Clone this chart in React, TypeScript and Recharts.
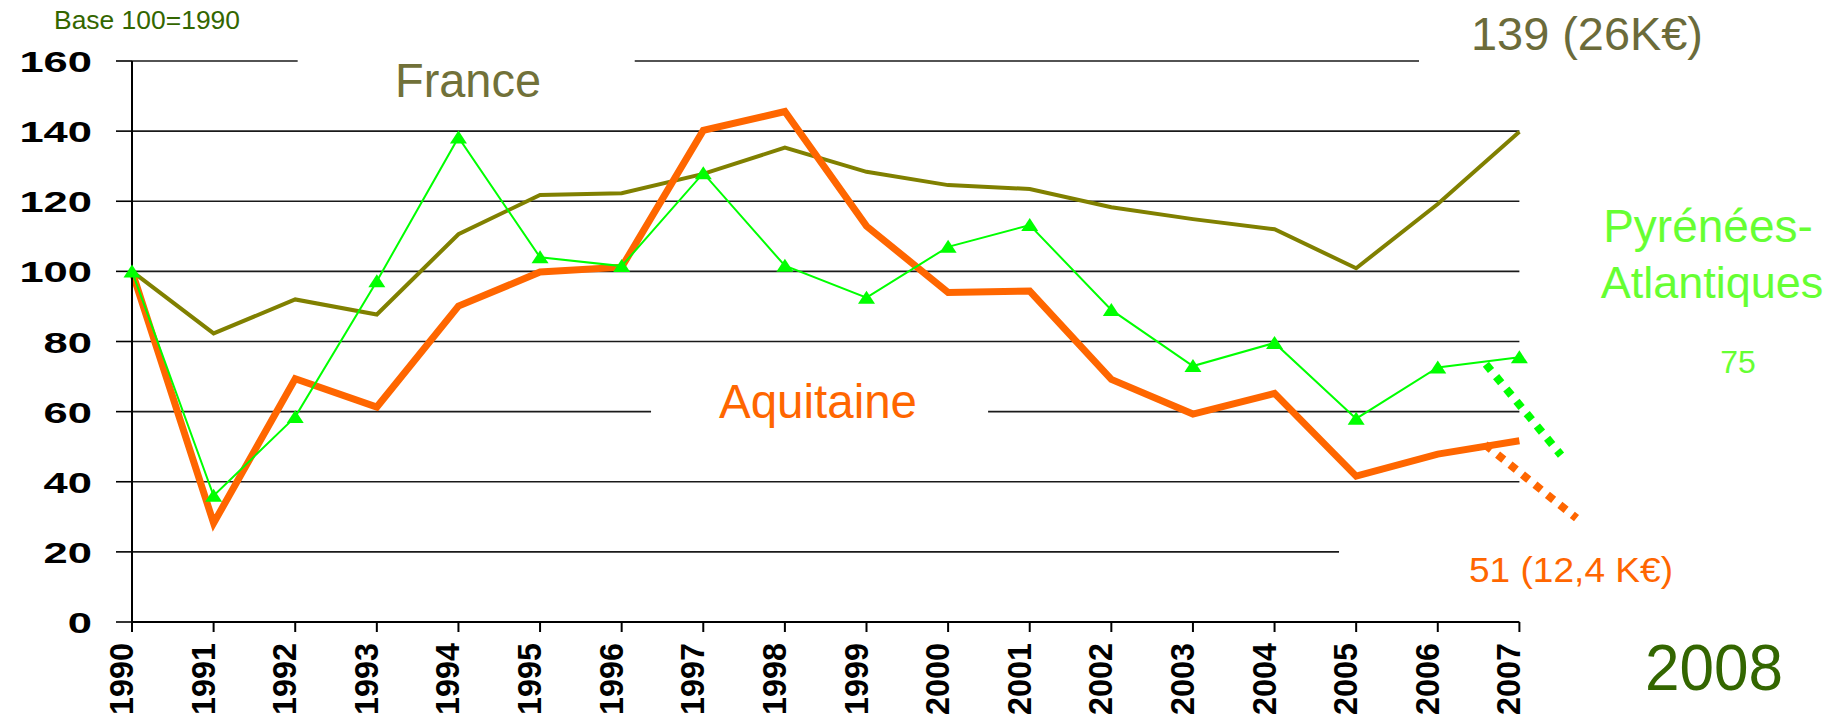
import React from 'react';
import { LineChart, Line, XAxis, YAxis, ReferenceLine } from 'recharts';

// Base 100 = 1990
const years = [1990, 1991, 1992, 1993, 1994, 1995, 1996, 1997, 1998, 1999, 2000, 2001, 2002, 2003, 2004, 2005, 2006, 2007];
const franceValues = [100, 82.3, 92.0, 87.7, 110.6, 121.8, 122.3, 127.8, 135.3, 128.4, 124.6, 123.5, 118.3, 114.9, 112.0, 100.9, 119.2, 139.8];
const aquitaineValues = [100, 28.2, 69.4, 61.3, 90.1, 99.8, 101.2, 140.2, 145.6, 112.9, 94.0, 94.4, 69.2, 59.3, 65.2, 41.6, 47.9, 51.7];
const pyreneesValues = [100, 36.0, 58.5, 97.2, 138.2, 104.0, 101.5, 128.0, 101.6, 92.5, 107.0, 113.2, 89.0, 73.0, 79.6, 58.0, 72.6, 75.5];

// dotted trend to 2008
const pyreneesTrendYears = [2006.59, 2007.51];
const pyreneesTrendValues = [73.5, 47.6];
const aquitaineTrendYears = [2006.58, 2007.7];
const aquitaineTrendValues = [50.6, 29.6];

const yTicks = [0, 20, 40, 60, 80, 100, 120, 140, 160];

const FONT = 'Arial, "Liberation Sans", sans-serif';

const data = years.map((year, i) => ({
  year,
  france: franceValues[i],
  aquitaine: aquitaineValues[i],
  pyrenees: pyreneesValues[i],
}));
const pyreneesTrend = pyreneesTrendYears.map((year, i) => ({ year, value: pyreneesTrendValues[i] }));
const aquitaineTrend = aquitaineTrendYears.map((year, i) => ({ year, value: aquitaineTrendValues[i] }));

const YTick = (props: any) => {
  const { x, y, payload } = props;
  return (
    <g transform={`translate(${x - 22},${y + 11})`}>
      <text transform="scale(1.45,1)" textAnchor="end" fontSize={30} fontWeight="bold" fontFamily={FONT} fill="#000">
        {payload.value}
      </text>
    </g>
  );
};

const XTick = (props: any) => {
  const { x, y, payload } = props;
  return (
    <text
      transform={`translate(${x + 1},${y + 9}) rotate(-90)`}
      textAnchor="end"
      fontSize={33}
      fontWeight="bold"
      fontFamily={FONT}
      fill="#000"
      textLength={72}
      lengthAdjust="spacingAndGlyphs"
    >
      {payload.value}
    </text>
  );
};

const Triangle = (props: any) => {
  const { cx, cy, index } = props;
  if (cx == null || cy == null) return <g key={`t-${index}`} />;
  return (
    <polygon
      key={`t-${index}`}
      points={`${cx},${cy - 7} ${cx - 8.5},${cy + 6} ${cx + 8.5},${cy + 6}`}
      fill="#00ff00"
    />
  );
};

// grid segments, broken where the text boxes sit
const gridSegments: [number, number, number][] = [
  [160, 1990, 1992.03],
  [160, 1996.16, 2005.77],
  [140, 1990, 2007],
  [120, 1990, 2007],
  [100, 1990, 2007],
  [80, 1990, 2007],
  [60, 1990, 1996.36],
  [60, 2000.49, 2007],
  [40, 1990, 2007],
  [20, 1990, 2004.79],
];

export default function App() {
  return (
    <div style={{ position: 'absolute', left: 0, top: 0, width: 1847, height: 722, background: '#fff' }}>
      <LineChart width={1847} height={722} data={data} margin={{ top: 61, right: 246, bottom: 0, left: 0 }}>
        {gridSegments.map(([v, x1, x2], i) => (
          <ReferenceLine
            key={`g-${i}`}
            segment={[{ x: x1, y: v }, { x: x2, y: v }]}
            stroke="#1a1a1a"
            strokeWidth={1.6}
          />
        ))}
        <XAxis
          dataKey="year"
          type="number"
          domain={[1990, 2008]}
          ticks={years}
          interval={0}
          axisLine={false}
          tickLine={{ stroke: '#000', strokeWidth: 2 }}
          tickSize={10}
          height={100}
          tick={XTick}
        />
        <YAxis
          domain={[0, 160]}
          ticks={yTicks}
          interval={0}
          width={132}
          tickSize={16}
          axisLine={{ stroke: '#000', strokeWidth: 2 }}
          tickLine={{ stroke: '#000', strokeWidth: 1.6 }}
          tick={YTick}
        />
        <ReferenceLine segment={[{ x: 1990, y: 0 }, { x: 2007, y: 0 }]} stroke="#000" strokeWidth={2} />
        <Line
          dataKey="france"
          stroke="#808000"
          strokeWidth={4}
          dot={false}
          isAnimationActive={false}
        />
        <Line
          dataKey="aquitaine"
          stroke="#ff6600"
          strokeWidth={7}
          dot={false}
          isAnimationActive={false}
        />
        <Line
          data={aquitaineTrend}
          dataKey="value"
          stroke="#ff6600"
          strokeWidth={8}
          strokeDasharray="8 8"
          dot={false}
          isAnimationActive={false}
        />
        <Line
          dataKey="pyrenees"
          stroke="#00ff00"
          strokeWidth={2}
          dot={Triangle}
          isAnimationActive={false}
        />
        <Line
          data={pyreneesTrend}
          dataKey="value"
          stroke="#00ff00"
          strokeWidth={8}
          strokeDasharray="8 8"
          dot={false}
          isAnimationActive={false}
        />
      </LineChart>
      <svg
        width={1847}
        height={722}
        style={{ position: 'absolute', left: 0, top: 0, pointerEvents: 'none' }}
        fontFamily={FONT}
      >
        <text x={54} y={29} fontSize={25} fill="#336600" textLength={186} lengthAdjust="spacingAndGlyphs">
          Base 100=1990
        </text>
        <text x={395} y={97} fontSize={48} fill="#717139" textLength={146} lengthAdjust="spacingAndGlyphs">
          France
        </text>
        <text x={1471} y={50} fontSize={46} fill="#6b6b3a" textLength={232} lengthAdjust="spacingAndGlyphs">
          139 (26K€)
        </text>
        <text x={719} y={418} fontSize={48} fill="#ff6600" textLength={198} lengthAdjust="spacingAndGlyphs">
          Aquitaine
        </text>
        <text x={1708} y={242} fontSize={46} fill="#66ff33" textAnchor="middle">
          Pyrénées-
        </text>
        <text x={1712} y={298} fontSize={45} fill="#66ff33" textAnchor="middle">
          Atlantiques
        </text>
        <text x={1738} y={373} fontSize={32} fill="#66ff33" textAnchor="middle">
          75
        </text>
        <text x={1469} y={582} fontSize={35} fill="#ff6600" textLength={204} lengthAdjust="spacingAndGlyphs">
          51 (12,4 K€)
        </text>
        <text x={1645} y={690} fontSize={64} fill="#336600" textLength={138} lengthAdjust="spacingAndGlyphs">
          2008
        </text>
      </svg>
    </div>
  );
}
